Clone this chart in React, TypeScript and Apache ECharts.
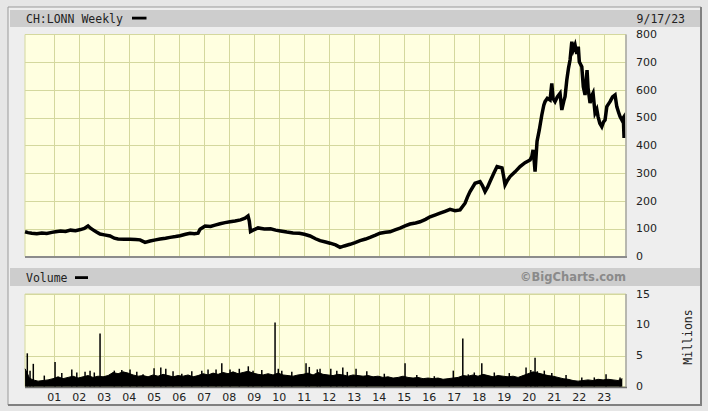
import React, { useEffect, useRef } from "react";
import * as echarts from "echarts";

// ---- axis ranges / labels ----
const xStartYear = 1999.828;
const xEndYear = 2023.868;
const yearLabels = ["01", "02", "03", "04", "05", "06", "07", "08", "09", "10", "11", "12", "13", "14", "15", "16", "17", "18", "19", "20", "21", "22", "23"];
const firstLabelYear = 2001;
const priceMax = 800;
const priceStep = 100;
const volumeMax = 15;
const volumeStep = 5;

// ---- weekly close (approximate), x = decimal year ----
const priceYears = [
  1999.83, 1999.95, 2000.1, 2000.3, 2000.5, 2000.7, 2000.9, 2001.05, 2001.25, 2001.45,
  2001.65, 2001.85, 2002.05, 2002.2, 2002.35, 2002.45, 2002.55, 2002.67, 2002.83, 2003.0,
  2003.23, 2003.4, 2003.55, 2003.8, 2004.03, 2004.25, 2004.43, 2004.63, 2004.83, 2005.05,
  2005.23, 2005.45, 2005.63, 2005.85, 2006.03, 2006.25, 2006.43, 2006.6, 2006.75, 2006.83,
  2007.03, 2007.25, 2007.43, 2007.63, 2007.83, 2008.03, 2008.23, 2008.45, 2008.63, 2008.75,
  2008.8, 2008.85, 2008.95, 2009.15, 2009.4, 2009.65, 2009.85, 2010.05, 2010.3, 2010.55,
  2010.8, 2011.0, 2011.23, 2011.45, 2011.63, 2011.85, 2012.03, 2012.25, 2012.43, 2012.6,
  2012.83, 2013.03, 2013.23, 2013.45, 2013.63, 2013.85, 2014.03, 2014.25, 2014.43, 2014.63,
  2014.83, 2015.03, 2015.23, 2015.45, 2015.63, 2015.85, 2016.03, 2016.25, 2016.43, 2016.63,
  2016.83, 2017.03, 2017.23, 2017.43, 2017.53, 2017.63, 2017.83, 2018.03, 2018.13, 2018.23,
  2018.33, 2018.43, 2018.58, 2018.71, 2018.91, 2018.97, 2019.03, 2019.13, 2019.23, 2019.43,
  2019.63, 2019.83, 2020.03, 2020.1, 2020.15, 2020.2, 2020.23, 2020.31, 2020.4, 2020.5,
  2020.58, 2020.63, 2020.72, 2020.83, 2020.9, 2020.95, 2021.03, 2021.12, 2021.23, 2021.3,
  2021.38, 2021.43, 2021.5, 2021.57, 2021.63, 2021.7, 2021.76, 2021.83, 2021.9, 2021.96,
  2022.0, 2022.1, 2022.16, 2022.23, 2022.31, 2022.35, 2022.43, 2022.5, 2022.55, 2022.63,
  2022.7, 2022.75, 2022.82, 2022.9, 2022.97, 2023.03, 2023.1, 2023.17, 2023.23, 2023.33,
  2023.43, 2023.5, 2023.57, 2023.63, 2023.7, 2023.76, 2023.79,
];
const priceValues = [
  89, 86, 84, 82, 85, 83, 87, 89, 92, 90,
  95, 93, 97, 101, 110, 102, 96, 89, 81, 78,
  74, 66, 63, 62, 62, 61, 60, 51, 56, 60,
  63, 66, 69, 72, 75, 80, 84, 82, 84, 98,
  110, 108, 113, 118, 122, 125, 128, 132, 138, 146,
  128, 90, 95, 103, 99, 100, 95, 92, 88, 85,
  84, 80, 74, 64, 57, 52, 48, 42, 33, 38,
  44, 50, 57, 63, 69, 77, 84, 87, 89, 96,
  102, 110, 117, 121, 125, 134, 143, 150, 156, 163,
  170, 165, 168, 192, 215, 234, 264, 270, 255, 234,
  250, 270, 300, 324, 319, 290, 258, 275, 288, 305,
  324, 338, 348, 360, 384, 340, 306, 415, 456, 510,
  545, 558, 570, 564, 624, 570, 558, 575, 588, 528,
  560, 576, 636, 680, 708, 774, 745, 762, 730, 756,
  702, 684, 612, 582, 672, 607, 553, 580, 589, 517,
  530, 504, 480, 468, 485, 492, 540, 550, 558, 575,
  582, 540, 520, 504, 492, 500, 427,
];

// ---- volume (millions): general level and individual spikes ----
const volumeBaseYears = [
  1999.83, 1999.92, 2000.0, 2000.15, 2000.35, 2000.55, 2000.75, 2000.95, 2001.15, 2001.35,
  2001.55, 2001.75, 2001.95, 2002.15, 2002.35, 2002.55, 2002.75, 2002.95, 2003.15, 2003.35,
  2003.55, 2003.75, 2003.95, 2004.15, 2004.35, 2004.55, 2004.75, 2004.95, 2005.15, 2005.35,
  2005.55, 2005.75, 2005.95, 2006.15, 2006.35, 2006.55, 2006.75, 2006.95, 2007.15, 2007.35,
  2007.55, 2007.75, 2007.95, 2008.15, 2008.35, 2008.55, 2008.75, 2008.95, 2009.15, 2009.35,
  2009.55, 2009.75, 2009.95, 2010.15, 2010.35, 2010.55, 2010.75, 2010.95, 2011.15, 2011.35,
  2011.55, 2011.75, 2011.95, 2012.15, 2012.35, 2012.55, 2012.75, 2012.95, 2013.15, 2013.35,
  2013.55, 2013.75, 2013.95, 2014.15, 2014.35, 2014.55, 2014.75, 2014.95, 2015.15, 2015.35,
  2015.55, 2015.75, 2015.95, 2016.15, 2016.35, 2016.55, 2016.75, 2016.95, 2017.15, 2017.35,
  2017.55, 2017.75, 2017.95, 2018.15, 2018.35, 2018.55, 2018.75, 2018.95, 2019.15, 2019.35,
  2019.55, 2019.75, 2019.95, 2020.15, 2020.35, 2020.55, 2020.75, 2020.95, 2021.15, 2021.35,
  2021.55, 2021.75, 2021.95, 2022.15, 2022.35, 2022.55, 2022.75, 2022.95, 2023.15, 2023.35,
  2023.55, 2023.72,
];
const volumeBaseValues = [
  2.9, 2.2, 1.4, 1.1, 0.9, 1.0, 1.1, 1.3, 1.6, 1.3,
  1.5, 1.7, 1.4, 1.6, 1.8, 1.5, 1.7, 1.6, 1.8, 2.3,
  2.1, 2.4, 2.2, 1.9, 1.7, 1.8, 1.6, 1.9, 1.7, 2.0,
  1.8, 1.6, 1.8, 1.7, 1.9, 1.6, 1.8, 2.1, 1.9, 2.2,
  2.0, 2.3, 2.1, 2.4, 2.1, 2.3, 2.5, 2.2, 2.0, 1.9,
  2.1, 1.9, 2.2, 1.9, 1.8, 1.7, 1.9, 2.0, 2.2, 1.9,
  2.3, 2.0, 1.9, 1.8, 2.0, 1.9, 1.7, 1.9, 1.8, 1.7,
  1.8, 1.6, 1.7, 1.5, 1.6, 1.4, 1.5, 1.7, 1.5, 1.4,
  1.5, 1.3, 1.4, 1.3, 1.4, 1.2, 1.3, 1.4, 1.5, 1.8,
  1.7, 1.9, 1.7, 2.0, 1.8, 1.6, 1.8, 1.7, 1.6, 1.7,
  1.5, 1.8, 2.1, 2.4, 2.2, 2.0, 1.8, 1.7, 1.5, 1.3,
  1.2, 1.0, 0.9, 1.0, 1.1, 1.0, 1.2, 1.1, 1.2, 1.1,
  1.0, 1.3,
];
const volumeSpikeYears = [
  1999.92, 2000.03, 2000.16, 2000.6, 2001.03, 2001.3, 2001.7, 2001.9, 2002.23, 2002.43,
  2002.6, 2002.83, 2003.4, 2003.7, 2004.03, 2004.3, 2004.55, 2004.99, 2005.26, 2005.46,
  2005.75, 2006.1, 2006.5, 2006.9, 2007.15, 2007.47, 2007.7, 2008.03, 2008.4, 2008.76,
  2008.95, 2009.3, 2009.83, 2009.96, 2010.1, 2010.5, 2011.07, 2011.2, 2011.52, 2011.63,
  2012.06, 2012.3, 2012.54, 2012.72, 2013.07, 2013.5, 2014.2, 2015.03, 2015.5, 2016.2,
  2016.96, 2017.34, 2017.56, 2017.8, 2018.1, 2018.6, 2019.2, 2019.87, 2020.06, 2020.23,
  2020.32, 2020.6, 2020.9, 2021.47, 2022.1, 2022.6, 2023.07, 2023.63,
];
const volumeSpikeValues = [
  5.4, 2.6, 3.7, 1.8, 4.0, 2.2, 2.8, 2.3, 2.4, 2.6,
  2.3, 8.6, 2.6, 2.7, 2.8, 2.4, 2.0, 3.0, 3.1, 2.9,
  2.5, 2.1, 2.5, 2.6, 2.8, 2.8, 3.8, 2.8, 2.9, 3.3,
  2.6, 2.7, 10.4, 2.9, 2.6, 2.4, 3.8, 3.2, 2.8, 2.9,
  2.9, 2.6, 3.1, 2.4, 2.9, 2.5, 2.1, 3.8, 1.9, 1.7,
  2.6, 7.8, 2.0, 2.3, 3.8, 2.3, 2.2, 3.1, 2.7, 4.7,
  2.5, 2.6, 2.2, 1.9, 1.5, 1.5, 2.0, 1.5,
];

// ---- styles ----
const GRID_COLOR = "#d4d89e";
const PLOT_BG = "#ffffe0";
const SANS = "'DejaVu Sans', Verdana, sans-serif";
const MONO = "'DejaVu Sans Mono', monospace";

const yearGridValues = yearLabels.map((_, i) => firstLabelYear + i);

function yearLabel(v: number): string {
  const r = Math.round(v);
  if (Math.abs(v - r) > 1e-6) return "";
  const i = r - firstLabelYear;
  return i >= 0 && i < yearLabels.length ? yearLabels[i] : "";
}

const yearMarkLine = {
  silent: true,
  z: 1,
  symbol: ["none", "none"],
  label: { show: false },
  lineStyle: { color: GRID_COLOR, width: 1, type: "solid" },
  emphasis: { disabled: true },
  data: yearGridValues.map((v) => ({ xAxis: v })),
};

const G1 = { left: 25, top: 34.5, width: 601, height: 222 };
const G2 = { left: 25, top: 294, width: 601, height: 92.7 };

function buildOption(): any {
  const baseX = {
    type: "value",
    min: xStartYear,
    max: xEndYear,
    minInterval: 1,
    maxInterval: 1,
    splitNumber: 24,
    axisLine: { show: false },
    axisTick: { show: false },
    splitLine: { show: false },
  };
  const baseY = {
    type: "value",
    position: "right",
    min: 0,
    axisLine: { show: false },
    axisTick: { show: false },
    axisLabel: { margin: 10, color: "#222", fontFamily: SANS, fontSize: 11 },
    splitLine: { show: true, lineStyle: { color: GRID_COLOR, width: 1 } },
  };
  return {
    animation: false,
    backgroundColor: "#e6e6e6",
    grid: [
      { ...G1, show: true, backgroundColor: PLOT_BG, borderColor: GRID_COLOR, borderWidth: 1 },
      { ...G2, show: true, backgroundColor: PLOT_BG, borderColor: GRID_COLOR, borderWidth: 1 },
    ],
    xAxis: [
      { ...baseX, gridIndex: 0, axisLabel: { show: false } },
      {
        ...baseX,
        gridIndex: 1,
        axisLabel: { show: true, margin: 5, color: "#222", fontFamily: SANS, fontSize: 11, formatter: yearLabel },
      },
    ],
    yAxis: [
      { ...baseY, gridIndex: 0, max: priceMax, interval: priceStep },
      { ...baseY, gridIndex: 1, max: volumeMax, interval: volumeStep },
    ],
    graphic: [
      { type: "rect", z: -10, shape: { x: 8, y: 7, width: 693, height: 398 }, style: { fill: "#eeeeee", stroke: "#9a9a9a", lineWidth: 1 } },
      { type: "line", z: -9, shape: { x1: 701, y1: 7, x2: 701, y2: 406 }, style: { stroke: "#808080", lineWidth: 2 } },
      { type: "line", z: -9, shape: { x1: 8, y1: 405, x2: 702, y2: 405 }, style: { stroke: "#808080", lineWidth: 2 } },
      { type: "rect", z: -9, shape: { x: 10, y: 10, width: 690, height: 17 }, style: { fill: "#cdcdcd" } },
      { type: "rect", z: -9, shape: { x: 10, y: 268, width: 690, height: 18 }, style: { fill: "#cdcdcd" } },
      { type: "text", z: 10, x: 26, y: 18.5, style: { text: "CH:LONN Weekly", font: `11.5px ${MONO}`, fill: "#222", verticalAlign: "middle" } },
      { type: "rect", z: 10, shape: { x: 132, y: 16.7, width: 14.5, height: 2.8 }, style: { fill: "#000" } },
      { type: "text", z: 10, x: 685, y: 18.5, style: { text: "9/17/23", font: `11.5px ${MONO}`, fill: "#222", align: "right", verticalAlign: "middle" } },
      { type: "text", z: 10, x: 26, y: 277.5, style: { text: "Volume", font: `11.5px ${MONO}`, fill: "#222", verticalAlign: "middle" } },
      { type: "rect", z: 10, shape: { x: 75, y: 276.2, width: 13, height: 2.8 }, style: { fill: "#000" } },
      { type: "text", z: 10, x: 626, y: 277, style: { text: "©BigCharts.com", font: `bold 11.5px ${SANS}`, fill: "#8a8a8a", align: "right", verticalAlign: "middle" } },
      { type: "text", z: 10, x: 688, y: 337, rotation: Math.PI / 2, style: { text: "Millions", font: `11.5px ${MONO}`, fill: "#222", align: "center", verticalAlign: "middle" } },
      // plot shadows (right / bottom edges)
      { type: "line", z: 10, shape: { x1: 626, y1: 34.5, x2: 626, y2: 257.5 }, style: { stroke: "#a8a8a8", lineWidth: 1.5 } },
      { type: "line", z: 10, shape: { x1: 25, y1: 257, x2: 627, y2: 257 }, style: { stroke: "#8c8c8c", lineWidth: 2 } },
      { type: "line", z: 10, shape: { x1: 626, y1: 294, x2: 626, y2: 387.5 }, style: { stroke: "#a8a8a8", lineWidth: 1.5 } },
      { type: "line", z: 10, shape: { x1: 25, y1: 387.4, x2: 627, y2: 387.4 }, style: { stroke: "#6c6c6c", lineWidth: 1.5 } },
    ],
    series: [
      {
        type: "line",
        name: "price",
        xAxisIndex: 0,
        yAxisIndex: 0,
        z: 3,
        showSymbol: false,
        silent: true,
        lineStyle: { color: "#000", width: 3.5, join: "miter" },
        data: priceYears.map((x, i) => [x, priceValues[i]]),
        markLine: yearMarkLine,
      },
      {
        type: "line",
        name: "volumeBase",
        xAxisIndex: 1,
        yAxisIndex: 1,
        z: 3,
        showSymbol: false,
        silent: true,
        lineStyle: { color: "#000", width: 1 },
        areaStyle: { color: "#000", opacity: 1 },
        data: volumeBaseYears.map((x, i) => [x, volumeBaseValues[i]]),
        markLine: yearMarkLine,
      },
      {
        type: "bar",
        name: "volumeSpikes",
        xAxisIndex: 1,
        yAxisIndex: 1,
        z: 3,
        silent: true,
        barWidth: 1.5,
        itemStyle: { color: "#000" },
        data: volumeSpikeYears.map((x, i) => [x, volumeSpikeValues[i]]),
      },
    ],
  };
}

export default function App() {
  const ref = useRef<HTMLDivElement>(null);
  useEffect(() => {
    if (!ref.current) return;
    const chart = echarts.init(ref.current, null, { renderer: "svg" });
    chart.setOption(buildOption());
    return () => chart.dispose();
  }, []);
  return <div ref={ref} style={{ position: "absolute", left: 0, top: 0, width: 708, height: 411 }} />;
}
